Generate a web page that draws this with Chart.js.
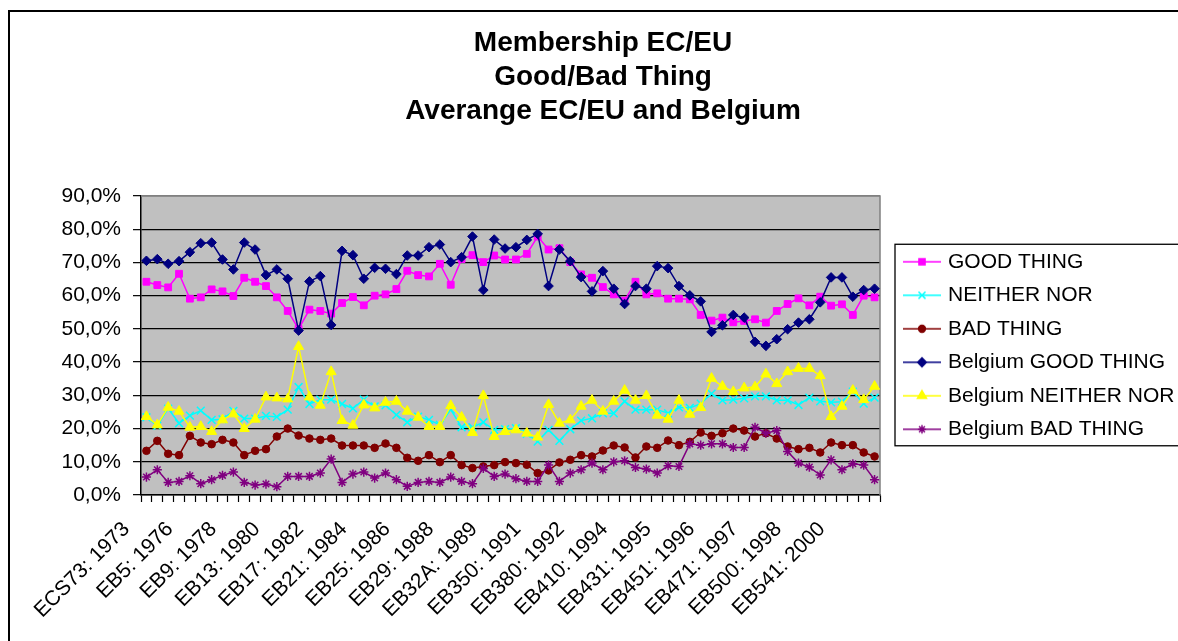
<!DOCTYPE html>
<html>
<head>
<meta charset="utf-8">
<script src="https://cdn.jsdelivr.net/npm/chart.js@4.4.1/dist/chart.umd.min.js"></script>
<style>
  html, body { margin: 0; padding: 0; background: #fff; }
  #wrap { width: 1178px; height: 641px; position: relative; }
</style>
</head>
<body>
<div id="wrap"><canvas id="chart"></canvas></div>
<script>
const categories = [
  "ECS73: 1973", "EB2: 1974", "EB3: 1975", "EB4: 1975", "EB5: 1976", "EB6: 1976", "EB7: 1977", "EB8: 1977",
  "EB9: 1978", "EB10: 1978", "EB11: 1979", "EB12: 1979", "EB13: 1980", "EB14: 1980", "EB15: 1981", "EB16: 1981",
  "EB17: 1982", "EB18: 1982", "EB19: 1983", "EB20: 1983", "EB21: 1984", "EB22: 1984", "EB23: 1985", "EB24: 1985",
  "EB25: 1986", "EB26: 1986", "EB27: 1987", "EB28: 1987", "EB29: 1988", "EB30: 1988", "EB31: 1989", "EB31A: 1989",
  "EB32A: 1989", "EB33: 1990", "EB34: 1990", "EB341: 1990", "EB350: 1991", "EB360: 1991", "EB370: 1992", "EB371: 1992",
  "EB380: 1992", "EB390: 1993", "EB400: 1993", "EB401: 1994", "EB410: 1994", "EB411: 1994", "EB420: 1994", "EB430: 1995",
  "EB431: 1995", "EB440: 1995", "EB441: 1996", "EB450: 1996", "EB451: 1996", "EB460: 1996", "EB461: 1997", "EB470: 1997",
  "EB471: 1997", "EB480: 1997", "EB481: 1998", "EB490: 1998", "EB500: 1998", "EB510: 1999", "EB520: 1999", "EB530: 2000",
  "EB541: 2000", "EB542: 2000", "EB550: 2001", "EB560: 2001"
];

const goodThing = [
  64.2, 63.2, 62.5, 66.6, 59.1, 59.5, 61.9, 61.3, 59.9, 65.4, 64.2, 62.9, 59.5, 55.4, 50.0, 55.8,
  55.4, 54.6, 57.8, 59.6, 57.1, 60.0, 60.4, 62.0, 67.5, 66.2, 65.8, 69.6, 63.3, 71.0, 72.2, 70.1,
  72.1, 70.9, 70.9, 72.6, 77.8, 73.9, 74.3, 70.1, 66.4, 65.4, 62.6, 60.4, 58.5, 64.2, 60.4, 60.7,
  59.1, 59.1, 58.9, 54.2, 52.5, 53.4, 52.0, 52.4, 52.9, 51.9, 55.4, 57.5, 59.2, 57.1, 59.7, 57.0,
  57.4, 54.2, 60.0, 59.5
];
const neitherNor = [
  23.4, 20.8, 26.0, 21.6, 23.9, 25.4, 22.6, 22.8, 25.3, 23.0, 23.0, 23.8, 23.5, 25.7, 32.5, 27.4,
  28.7, 28.7, 27.4, 26.1, 28.7, 26.7, 27.0, 24.1, 21.9, 23.6, 22.6, 21.1, 25.7, 20.4, 20.4, 21.9,
  19.6, 19.8, 20.1, 18.4, 16.1, 19.6, 16.3, 19.8, 22.4, 23.1, 24.6, 24.6, 28.2, 25.7, 25.7, 25.7,
  24.6, 26.4, 26.2, 27.5, 30.5, 28.5, 28.7, 29.1, 29.7, 29.7, 28.5, 28.5, 27.1, 29.3, 28.2, 27.9,
  28.1, 31.1, 27.5, 29.3
];
const badThing = [
  13.3, 16.3, 12.4, 12.0, 17.8, 15.8, 15.3, 16.6, 15.8, 12.0, 13.3, 13.8, 17.6, 20.0, 17.9, 17.0,
  16.6, 17.0, 14.9, 14.9, 14.9, 14.2, 15.5, 14.2, 11.2, 10.3, 12.0, 9.9, 12.0, 9.0, 8.1, 8.6,
  9.0, 9.9, 9.6, 9.1, 6.6, 7.4, 9.8, 10.6, 12.0, 11.6, 13.4, 14.9, 14.3, 11.3, 14.6, 14.2,
  16.4, 15.0, 16.0, 18.8, 17.8, 18.6, 20.0, 19.4, 17.6, 18.6, 17.0, 14.6, 13.8, 14.2, 12.8, 15.8,
  15.0, 15.0, 12.8, 11.6
];
const belgiumGood = [
  70.5, 71.0, 69.6, 70.4, 73.1, 75.8, 76.0, 70.9, 67.9, 76.0, 73.9, 66.2, 67.9, 65.1, 49.5, 64.3,
  65.9, 51.2, 73.5, 72.2, 65.1, 68.4, 68.1, 66.5, 72.1, 72.1, 74.6, 75.4, 70.1, 71.6, 77.8, 61.7,
  76.9, 74.2, 74.6, 76.8, 78.6, 62.9, 73.9, 70.4, 65.6, 61.3, 67.4, 62.1, 57.5, 62.9, 62.1, 68.9,
  68.3, 62.9, 60.1, 58.3, 49.1, 51.1, 54.2, 53.4, 46.1, 44.9, 46.9, 49.9, 51.9, 52.9, 58.0, 65.5,
  65.5, 59.7, 61.7, 62.1
];
const belgiumNeither = [
  23.6, 21.1, 26.4, 25.2, 20.4, 20.6, 19.1, 22.6, 24.4, 20.0, 22.8, 29.5, 29.2, 28.9, 44.7, 29.5,
  27.0, 37.1, 22.4, 21.0, 27.1, 26.2, 27.9, 28.2, 25.2, 23.4, 20.6, 20.6, 26.9, 23.4, 18.8, 29.9,
  17.6, 19.1, 19.6, 18.6, 17.4, 27.2, 21.6, 22.6, 26.7, 28.5, 25.2, 28.2, 31.5, 28.5, 29.9, 24.0,
  22.8, 28.5, 24.3, 26.3, 35.1, 32.7, 31.1, 32.2, 32.5, 36.4, 33.5, 37.1, 38.1, 38.1, 35.9, 23.6,
  26.7, 31.5, 28.7, 32.7
];
const belgiumBad = [
  5.4, 7.6, 3.8, 4.1, 5.8, 3.4, 4.6, 5.9, 6.9, 3.8, 3.0, 3.3, 2.5, 5.6, 5.6, 5.6,
  6.6, 10.8, 3.8, 6.3, 6.9, 5.1, 6.6, 4.6, 2.6, 3.8, 4.1, 3.8, 5.4, 4.1, 3.4, 8.0,
  5.6, 6.3, 4.9, 4.1, 4.1, 9.0, 4.1, 6.6, 7.6, 9.6, 7.6, 10.0, 10.3, 8.3, 7.8, 6.6,
  8.8, 8.6, 15.4, 15.0, 15.4, 15.4, 14.3, 14.3, 20.4, 18.6, 19.4, 13.1, 9.6, 8.4, 6.0, 10.6,
  7.6, 9.4, 9.0, 4.6
];

const seriesNames = ['GOOD THING', 'NEITHER NOR', 'BAD THING', 'Belgium GOOD THING', 'Belgium NEITHER NOR', 'Belgium BAD THING'];
const seriesValues = [goodThing, neitherNor, badThing, belgiumGood, belgiumNeither, belgiumBad];
const seriesColors = ['#ff00ff', '#00ffff', '#800000', '#000080', '#ffff00', '#800080'];
const seriesMarkers = ['rect', 'crossRot', 'circle', 'rectRot', 'triangle', 'star'];
const markerSizes = [4.8, 5.5, 3.8, 4.8, 5.8, 4.6];

Chart.defaults.font.family = '"Liberation Sans", Arial, sans-serif';
Chart.defaults.color = '#000';

// line + marker sample for each legend entry
function legendIcon(color, style, radius) {
  const c = document.createElement('canvas');
  c.width = 60;
  c.height = 16;
  const g = c.getContext('2d');
  g.strokeStyle = color;
  g.fillStyle = color;
  g.lineWidth = 1.5;
  g.beginPath();
  g.moveTo(18, 8);
  g.lineTo(56, 8);
  g.stroke();
  Chart.helpers.drawPoint(g, { pointStyle: style, radius: radius * 0.9, rotation: 0, borderWidth: 1.2 }, 37, 8);
  return c;
}
const icons = seriesNames.map((n, i) => legendIcon(seriesColors[i], seriesMarkers[i], markerSizes[i]));

const decor = {
  id: 'decor',
  afterLayout(chart) {
    // let the legend text run to the canvas edge, as in the original
    const lg = chart.legend;
    lg.right = chart.width;
    lg.width = chart.width - lg.left;
  },
  beforeDraw(chart) {
    const ctx = chart.ctx, a = chart.chartArea;
    ctx.save();
    ctx.fillStyle = '#fff';
    ctx.fillRect(0, 0, chart.width, chart.height);
    ctx.fillStyle = '#c0c0c0';
    ctx.fillRect(a.left, a.top, a.right - a.left, a.bottom - a.top);
    // outer chart frame
    ctx.strokeStyle = '#000';
    ctx.lineWidth = 2;
    ctx.beginPath();
    ctx.moveTo(9, chart.height + 5);
    ctx.lineTo(9, 11);
    ctx.lineTo(chart.width + 5, 11);
    ctx.stroke();
    ctx.restore();
  },
  beforeDatasetsDraw(chart) {
    const ctx = chart.ctx, a = chart.chartArea;
    ctx.save();
    ctx.strokeStyle = '#808080';
    ctx.lineWidth = 1.5;
    ctx.beginPath();
    ctx.moveTo(a.left, a.top);
    ctx.lineTo(a.right, a.top);
    ctx.lineTo(a.right, a.bottom);
    ctx.stroke();
    ctx.restore();
  },
  afterDraw(chart) {
    const lg = chart.legend;
    const boxes = lg.legendHitBoxes;
    if (!boxes || !boxes.length) return;
    const last = boxes[boxes.length - 1];
    const top = boxes[0].top - 7;
    const bottom = last.top + last.height + 6;
    const ctx = chart.ctx;
    ctx.save();
    ctx.strokeStyle = '#000';
    ctx.lineWidth = 1.3;
    ctx.strokeRect(lg.left + 15, top, chart.width, bottom - top);
    ctx.restore();
  }
};

new Chart(document.getElementById('chart'), {
  type: 'line',
  data: {
    labels: categories,
    datasets: seriesNames.map((name, i) => ({
      label: name,
      data: seriesValues[i],
      borderColor: seriesColors[i],
      backgroundColor: seriesColors[i],
      pointBackgroundColor: seriesColors[i],
      pointBorderColor: seriesColors[i],
      pointStyle: seriesMarkers[i],
      pointRadius: markerSizes[i],
      pointBorderWidth: (seriesMarkers[i] === 'crossRot' || seriesMarkers[i] === 'star') ? 1.5 : 1,
      borderWidth: 1.5,
      tension: 0,
      fill: false,
      order: seriesNames.length - i
    }))
  },
  options: {
    responsive: true,
    maintainAspectRatio: false,
    animation: false,
    events: [],
    layout: { padding: { left: 49, right: 21, top: 0, bottom: 0 } },
    plugins: {
      title: {
        display: true,
        text: ['Membership EC/EU', 'Good/Bad Thing', 'Averange EC/EU and Belgium'],
        color: '#000',
        font: { size: 28, weight: 'bold', lineHeight: 1.21 },
        padding: { top: 26.3, bottom: 68.1 }
      },
      legend: {
        position: 'right',
        fullSize: false,
        maxWidth: 277,
        labels: {
          usePointStyle: true,
          pointStyleWidth: 45,
          padding: 12.5,
          color: '#000',
          font: { size: 21 },
          sort: (a, b) => a.datasetIndex - b.datasetIndex,
          generateLabels(chart) {
            const items = Chart.defaults.plugins.legend.labels.generateLabels(chart);
            items.forEach(it => { it.pointStyle = icons[it.datasetIndex]; });
            return items;
          }
        }
      },
      tooltip: { enabled: false }
    },
    scales: {
      x: {
        offset: true,
        afterFit: s => { s.height = 146; },
        grid: { offset: true, drawOnChartArea: false, drawTicks: true, tickLength: 7, color: '#000', tickWidth: 1.2 },
        border: { color: '#000', width: 1.5 },
        ticks: {
          autoSkip: false,
          minRotation: 45,
          maxRotation: 45,
          labelOffset: -20,
          padding: 15,
          color: '#000',
          font: { size: 21 },
          callback: (v, i) => (i % 4 === 0 ? categories[i] : '')
        }
      },
      y: {
        min: 0,
        max: 90,
        afterFit: s => { s.width = 92; },
        grid: {
          color: c => (c.tick && c.tick.value === 90 ? '#808080' : '#000'),
          lineWidth: 1.3,
          tickColor: '#000',
          tickLength: 8,
          tickWidth: 1.2
        },
        border: { color: '#000', width: 1.5 },
        ticks: {
          stepSize: 10,
          padding: 12,
          color: '#000',
          font: { size: 21 },
          callback: v => v.toFixed(1).replace('.', ',') + '%'
        }
      }
    }
  },
  plugins: [decor]
});
</script>
</body>
</html>
